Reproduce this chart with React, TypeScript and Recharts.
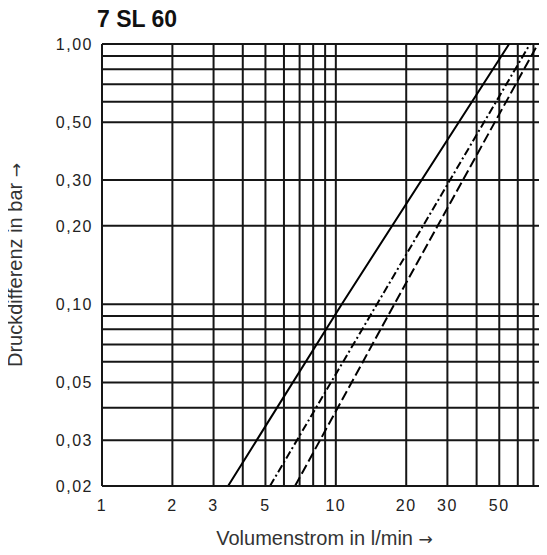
import { LineChart, Line, XAxis, YAxis, CartesianGrid } from 'recharts';

// Volumenstrom (l/min) und Druckdifferenz (bar)
const solidFlow = [3.46, 10.6, 55.1];
const solidDp = [0.02, 0.1, 1.0];
const dashDotFlow = [5.23, 15.0, 67.7];
const dashDotDp = [0.02, 0.1, 1.0];
const dashedFlow = [6.69, 17.8, 73.2];
const dashedDp = [0.02, 0.1, 1.0];

const xGrid = [1, 2, 3, 4, 5, 6, 7, 8, 9, 10, 20, 30, 40, 50, 60, 70, 80];
const xLabels = [1, 2, 3, 5, 10, 20, 30, 50];
const yGrid = [0.02, 0.03, 0.04, 0.05, 0.06, 0.07, 0.08, 0.09, 0.1, 0.2, 0.3, 0.5, 0.6, 0.7, 0.8, 0.9, 1];
const yLabels = [0.02, 0.03, 0.05, 0.1, 0.2, 0.3, 0.5, 1];

const toPoints = (xs: number[], ys: number[]) => xs.map((x, i) => ({ x, y: ys[i] }));

const ink = '#161616';
const tickStyle = { fill: '#222', fontSize: 16, fontFamily: 'Liberation Sans, Arial, sans-serif', letterSpacing: 1.5 };
const arrow = { fontFamily: 'DejaVu Sans, sans-serif', fontSize: 17 };

export default function App() {
  return (
    <div style={{ position: 'relative', width: 539, height: 547, fontFamily: 'Liberation Sans, Arial, sans-serif' }}>
      <div
        style={{
          position: 'absolute',
          left: 89,
          top: 0,
          fontSize: 23,
          lineHeight: '23px',
          fontWeight: 700,
          color: '#111',
        }}
      >
        7 SL 60
      </div>
      <LineChart width={539} height={547} margin={{ top: 36, right: 0, bottom: 39, left: 0 }}>
        <CartesianGrid stroke={ink} strokeWidth={2} />
        <XAxis
          type="number"
          dataKey="x"
          scale="log"
          domain={[1, 80]}
          ticks={xGrid}
          interval={0}
          allowDataOverflow
          height={30}
          tickSize={0}
          tickMargin={14}
          tick={tickStyle}
          tickFormatter={(v: number) => (xLabels.includes(v) ? String(v) : '')}
          axisLine={{ stroke: ink, strokeWidth: 2 }}
        />
        <YAxis
          type="number"
          dataKey="y"
          scale="log"
          domain={[0.02, 1]}
          ticks={yGrid}
          interval={0}
          allowDataOverflow
          width={94}
          tickSize={0}
          tickMargin={9}
          tick={tickStyle}
          tickFormatter={(v: number) => (yLabels.includes(v) ? v.toFixed(2).replace('.', ',') : '')}
          axisLine={{ stroke: ink, strokeWidth: 2 }}
        />
        <Line
          data={toPoints(solidFlow, solidDp)}
          dataKey="y"
          stroke="#000"
          strokeWidth={2}
          dot={false}
          isAnimationActive={false}
        />
        <Line
          data={toPoints(dashDotFlow, dashDotDp)}
          dataKey="y"
          stroke="#000"
          strokeWidth={2}
          strokeDasharray="8 3 2 3"
          dot={false}
          isAnimationActive={false}
        />
        <Line
          data={toPoints(dashedFlow, dashedDp)}
          dataKey="y"
          stroke="#000"
          strokeWidth={2}
          strokeDasharray="10 4"
          dot={false}
          isAnimationActive={false}
        />
      </LineChart>
      <div
        style={{
          position: 'absolute',
          left: 94,
          width: 445,
          top: 518,
          textAlign: 'center',
          fontSize: 20,
          lineHeight: '24px',
          color: '#333',
        }}
      >
        Volumenstrom in l/min <span style={arrow}>→</span>
      </div>
      <div
        style={{
          position: 'absolute',
          left: 7 - 150,
          top: 257 - 12,
          width: 300,
          height: 24,
          lineHeight: '24px',
          textAlign: 'center',
          fontSize: 20,
          color: '#333',
          transform: 'rotate(-90deg)',
        }}
      >
        Druckdifferenz in bar <span style={arrow}>→</span>
      </div>
    </div>
  );
}
